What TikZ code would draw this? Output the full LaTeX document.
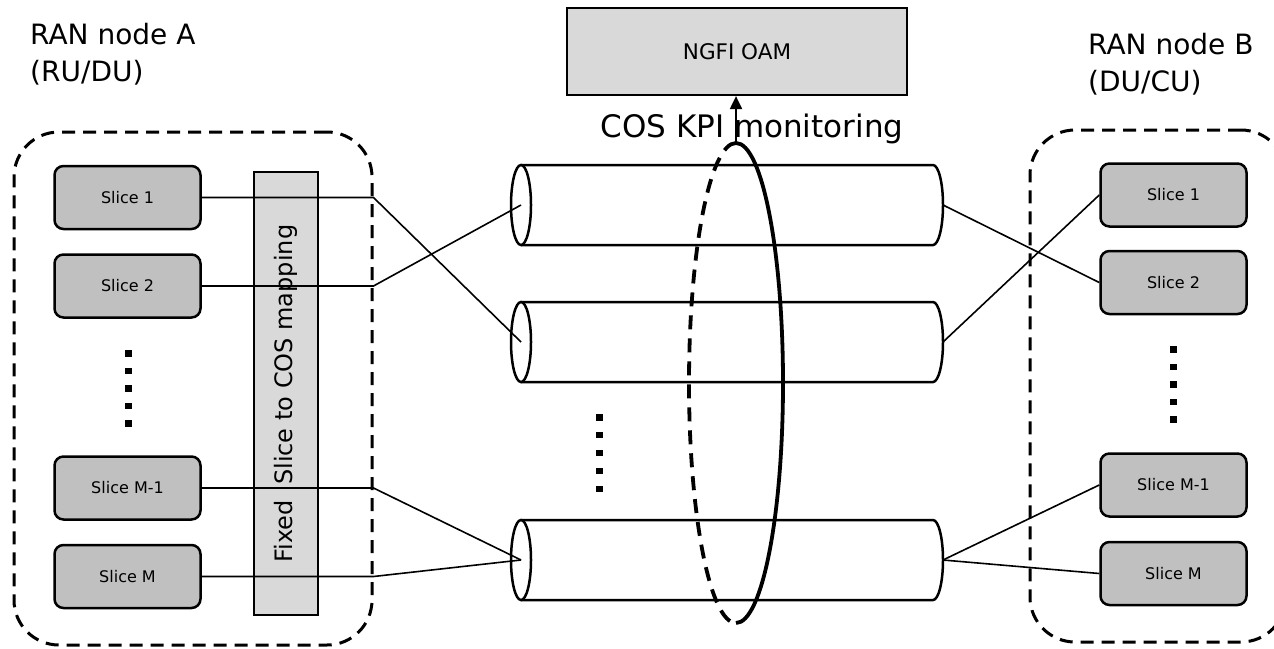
\documentclass[tikz,border=0pt]{standalone}
\usepackage{fontspec}
\setmainfont{DejaVu Sans}
\usepackage{tikz}
\usetikzlibrary{arrows.meta, positioning}

\definecolor{slicegray}{HTML}{C0C0C0}
\definecolor{boxgray}{HTML}{D9D9D9}

\begin{document}
\begin{tikzpicture}[
    x=1pt, y=-1pt,
    slice/.style={rectangle, draw, line width=2.5pt, rounded corners=9pt, fill=slicegray, minimum width=146pt, minimum height=63pt, inner sep=0pt, font=\fontsize{16}{19}\selectfont},
    ranbox/.style={rectangle, draw, line width=3pt, dash pattern=on 13pt off 8pt, rounded corners=45pt},
    ranlabel/.style={font=\fontsize{28}{37}\selectfont, align=left, inner sep=0pt, anchor=north west},
    pipe/.style={line width=2.5pt},
    link/.style={line width=1.6pt},
    arrow/.style={-{Triangle[length=13pt, width=12pt]}, line width=2pt}
]
    \clip (0,0) rectangle (1274,648);

    % RAN node boxes
    \node [ranbox, minimum width=358pt, minimum height=513pt] (ranA) at (193,388.5) {};
    \node [ranbox, minimum width=256pt, minimum height=512pt] (ranB) at (1158,386) {};
    \node [ranlabel] (lblA) at (30,23) {RAN node A\\(RU/DU)};
    \node [ranlabel] (lblB) at (1088,33) {RAN node B\\(DU/CU)};

    % slice to COS mapping
    \node [draw, fill=boxgray, line width=1.8pt, rotate=90, minimum width=443pt, minimum height=64pt, inner sep=0pt, font=\fontsize{24}{28}\selectfont] (map) at (286,393.5) {Fixed\ \ Slice to COS mapping};

    % slices, node A
    \node [slice] (a1) at (127.5,197.5) {Slice 1};
    \node [slice, below=23pt of a1] (a2) {Slice 2};
    \node [slice] (a3) at (127.5,488) {Slice M-1};
    \node [slice, below=23pt of a3] (a4) {Slice M};

    % slices, node B
    \node [slice] (b1) at (1173.5,195) {Slice 1};
    \node [slice, below=22pt of b1] (b2) {Slice 2};
    \node [slice] (b3) at (1173.5,485) {Slice M-1};
    \node [slice, below=23pt of b3] (b4) {Slice M};

    % COS pipes
    \foreach \n/\yc in {1/205, 2/342, 3/560} {
        \draw [pipe, fill=white] (521,\yc-40) -- (933,\yc-40) arc[start angle=-90, end angle=90, x radius=10, y radius=40] -- (521,\yc+40);
        \draw [pipe, fill=white] (521,\yc) ellipse [x radius=10, y radius=40];
        \coordinate (cin\n) at (521,\yc);
        \coordinate (cout\n) at (943,\yc);
    }

    % dots
    \foreach \k in {0,...,4} {
        \fill (125,350+17.5*\k) rectangle ++(6.5,6.5);
        \fill (596,414+17.9*\k) rectangle ++(6.5,6.5);
        \fill (1170,346+17.5*\k) rectangle ++(6.5,6.5);
    }

    % links
    \draw [link] (a1.east) -- (a1.east -| ranA.east) -- (cin2);
    \draw [link] (a2.east) -- (a2.east -| ranA.east) -- (cin1);
    \draw [link] (a3.east) -- (a3.east -| ranA.east) -- (cin3);
    \draw [link] (a4.east) -- (a4.east -| ranA.east) -- (cin3);
    \draw [link] (cout1) -- (b2.west);
    \draw [link] (cout2) -- (b1.west);
    \draw [link] (cout3) -- (b3.west);
    \draw [link] (cout3) -- (b4.west);

    % KPI monitoring
    \coordinate (kpitop) at (736,143);
    \draw [line width=3.8pt, dash pattern=on 14pt off 9pt] (kpitop) arc[start angle=-90, end angle=-270, x radius=47, y radius=240];
    \draw [line width=3.8pt] (kpitop) arc[start angle=-90, end angle=90, x radius=47, y radius=240];

    \node [draw, fill=boxgray, line width=2.2pt, minimum width=340pt, minimum height=87pt, font=\fontsize{21.5}{25}\selectfont] (oam) at (737,51.5) {NGFI OAM};
    \draw [arrow] (kpitop) -- (kpitop |- oam.south);
    \node [anchor=base, font=\fontsize{31}{37}\selectfont] (kpi) at (752,137) {COS KPI monitoring};
\end{tikzpicture}
\end{document}
